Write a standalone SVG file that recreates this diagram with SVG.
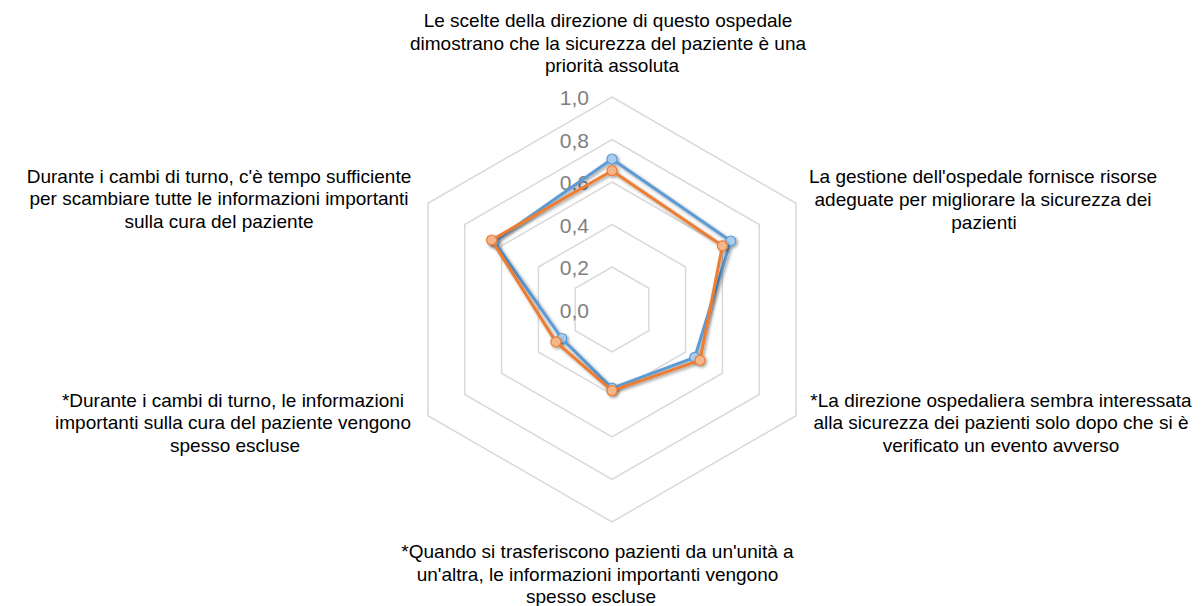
<svg xmlns="http://www.w3.org/2000/svg" width="1201" height="606" viewBox="0 0 1201 606">
<style>
.grid{fill:none;stroke:#d9d9d9;stroke-width:1.5}
.tick{font-family:"Liberation Sans",Arial,sans-serif;font-size:21px;fill:#7f7f7f;text-anchor:end}
.lbl{font-family:"Liberation Sans",Arial,sans-serif;font-size:19px;fill:#000;text-anchor:middle}
.sb{fill:none;stroke:#5b9bd5;stroke-width:3;stroke-linejoin:round}
.so{fill:none;stroke:#ed7d31;stroke-width:3;stroke-linejoin:round}
.mb{fill:#a9cdee;stroke:#5b9bd5;stroke-width:1.2}
.mo{fill:#f6b68c;stroke:#ed7d31;stroke-width:1.2}
</style>
<defs>
<filter id="sh" x="-20%" y="-20%" width="140%" height="140%">
<feDropShadow dx="1.5" dy="1.5" stdDeviation="1.8" flood-color="#000" flood-opacity="0.4"/>
</filter>
</defs>
<rect width="1201" height="606" fill="#fff"/>
<g id="grid">
<polygon class="grid" points="612,97 796,203.25 796,415.75 612,522 428,415.75 428,203.25"/>
<polygon class="grid" points="612,139.5 759.2,224.5 759.2,394.5 612,479.5 464.8,394.5 464.8,224.5"/>
<polygon class="grid" points="612,182 722.4,245.75 722.4,373.25 612,437 501.6,373.25 501.6,245.75"/>
<polygon class="grid" points="612,224.5 685.6,267 685.6,352 612,394.5 538.4,352 538.4,267"/>
<polygon class="grid" points="612,267 648.8,288.25 648.8,330.75 612,352 575.2,330.75 575.2,288.25"/>
</g>
<g id="ticks">
<text class="tick" x="589" y="105">1,0</text>
<text class="tick" x="589" y="147.5">0,8</text>
<text class="tick" x="589" y="190">0,6</text>
<text class="tick" x="589" y="232.5">0,4</text>
<text class="tick" x="589" y="275">0,2</text>
<text class="tick" x="589" y="317.5">0,0</text>
</g>
<g id="label-top" class="lbl">
<text x="608" y="27">Le scelte della direzione di questo ospedale</text>
<text x="608" y="49.5">dimostrano che la sicurezza del paziente è una</text>
<text x="612" y="72">priorità assoluta</text>
</g>
<g id="label-upper-right" class="lbl">
<text x="983" y="183">La gestione dell'ospedale fornisce risorse</text>
<text x="983" y="206">adeguate per migliorare la sicurezza dei</text>
<text x="984" y="229">pazienti</text>
</g>
<g id="label-lower-right" class="lbl">
<text x="1001" y="406.5">*La direzione ospedaliera sembra interessata</text>
<text x="1001" y="429">alla sicurezza dei pazienti solo dopo che si è</text>
<text x="1001" y="451.5">verificato un evento avverso</text>
</g>
<g id="label-bottom" class="lbl">
<text x="597.5" y="558">*Quando si trasferiscono pazienti da un'unità a</text>
<text x="597.5" y="580.5">un'altra, le informazioni importanti vengono</text>
<text x="591" y="602.5">spesso escluse</text>
</g>
<g id="label-lower-left" class="lbl">
<text x="233" y="406.5">*Durante i cambi di turno, le informazioni</text>
<text x="233" y="429">importanti sulla cura del paziente vengono</text>
<text x="235" y="451.5">spesso escluse</text>
</g>
<g id="label-upper-left" class="lbl">
<text x="219" y="182.5">Durante i cambi di turno, c'è tempo sufficiente</text>
<text x="219" y="205">per scambiare tutte le informazioni importanti</text>
<text x="219" y="227.5">sulla cura del paziente</text>
</g>
<g id="connectors">
<g id="series-blue" filter="url(#sh)">
<polygon class="sb" points="612,159 730.7,241 694.8,357.3 612,388.1 561.8,338.5 494.2,241.5"/>
<circle class="mb" cx="612" cy="159" r="5"/>
<circle class="mb" cx="730.7" cy="241" r="5"/>
<circle class="mb" cx="694.8" cy="357.3" r="5"/>
<circle class="mb" cx="612" cy="388.1" r="5"/>
<circle class="mb" cx="561.8" cy="338.5" r="5"/>
<circle class="mb" cx="494.2" cy="241.5" r="5"/>
</g>
<g id="series-orange" filter="url(#sh)">
<polygon class="so" points="612,170.7 722.4,245.8 700,360.3 612,390.7 555.9,341.9 491.6,240"/>
<circle class="mo" cx="612" cy="170.7" r="5"/>
<circle class="mo" cx="722.4" cy="245.8" r="5"/>
<circle class="mo" cx="700" cy="360.3" r="5"/>
<circle class="mo" cx="612" cy="390.7" r="5"/>
<circle class="mo" cx="555.9" cy="341.9" r="5"/>
<circle class="mo" cx="491.6" cy="240" r="5"/>
</g>
</g>
</svg>
